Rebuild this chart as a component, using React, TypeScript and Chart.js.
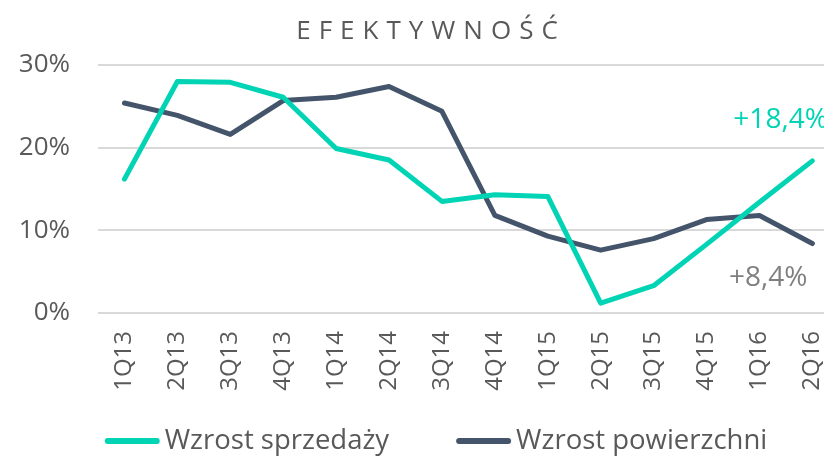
import React, { useEffect, useRef } from 'react';
import { Chart, registerables } from 'chart.js';

Chart.register(...registerables);

const categories = ['1Q13', '2Q13', '3Q13', '4Q13', '1Q14', '2Q14', '3Q14', '4Q14', '1Q15', '2Q15', '3Q15', '4Q15', '1Q16', '2Q16'];
const salesGrowth = [16.2, 28.0, 27.9, 26.1, 19.9, 18.5, 13.5, 14.3, 14.1, 1.2, 3.3, 8.3, 13.4, 18.4];
const areaGrowth = [25.4, 23.9, 21.6, 25.7, 26.1, 27.4, 24.4, 11.8, 9.3, 7.6, 9.0, 11.3, 11.8, 8.4];
const yTicks = [0, 10, 20, 30];
const seriesNames = ['Wzrost sprzedaży', 'Wzrost powierzchni'];
const titleText = 'EFEKTYWNOŚĆ';

const GREEN = '#00D4B4';
const NAVY = '#44546A';
const TEXT = '#595959';
const NOTE_GRAY = '#7F7F7F';
const FONT = "'Open Sans', sans-serif";
const LEGEND_CENTER_X = 436;
const TITLE_CENTER_X = 427;

const fmt = (v: number) => '+' + v.toFixed(1).replace('.', ',') + '%';

const spacedTitle = {
  id: 'spacedTitle',
  afterDraw(chart: any) {
    const ctx = chart.ctx;
    ctx.save();
    ctx.font = `26px ${FONT}`;
    const ls = 8;
    (ctx as any).letterSpacing = `${ls}px`;
    const w = ctx.measureText(titleText).width - ls;
    ctx.fillStyle = TEXT;
    ctx.textAlign = 'left';
    ctx.textBaseline = 'alphabetic';
    ctx.fillText(titleText, TITLE_CENTER_X - w / 2, 39);
    (ctx as any).letterSpacing = '0px';
    ctx.restore();
  },
};

const endLabels = {
  id: 'endLabels',
  afterDatasetsDraw(chart: any) {
    const ctx = chart.ctx;
    ctx.save();
    ctx.font = `28px ${FONT}`;
    ctx.textBaseline = 'middle';
    const m0 = chart.getDatasetMeta(0);
    const p0 = m0.data[m0.data.length - 1];
    ctx.fillStyle = GREEN;
    ctx.textAlign = 'left';
    ctx.fillText(fmt(salesGrowth[salesGrowth.length - 1]), p0.x - 79, p0.y - 41);
    const m1 = chart.getDatasetMeta(1);
    const p1 = m1.data[m1.data.length - 1];
    ctx.fillStyle = NOTE_GRAY;
    ctx.textAlign = 'right';
    ctx.fillText(fmt(areaGrowth[areaGrowth.length - 1]), p1.x - 5, p1.y + 34);
    ctx.restore();
  },
};

const bottomLegend = {
  id: 'bottomLegend',
  afterDraw(chart: any) {
    const ctx = chart.ctx;
    ctx.save();
    ctx.font = `27.5px ${FONT}`;
    const items = chart.data.datasets.map((ds: any) => ({
      label: ds.label,
      color: ds.borderColor,
      w: ctx.measureText(ds.label).width,
    }));
    const lineLen = 55;
    const gap = 5;
    const itemGap = 67;
    const total = items.reduce((s: number, it: any) => s + lineLen + gap + it.w, 0) + itemGap * (items.length - 1);
    let x = LEGEND_CENTER_X - total / 2;
    const y = chart.height - 15;
    items.forEach((it: any) => {
      ctx.strokeStyle = it.color;
      ctx.lineWidth = 6;
      ctx.lineCap = 'round';
      ctx.beginPath();
      ctx.moveTo(x + 3, y);
      ctx.lineTo(x + lineLen - 3, y);
      ctx.stroke();
      x += lineLen + gap;
      ctx.fillStyle = TEXT;
      ctx.textAlign = 'left';
      ctx.textBaseline = 'middle';
      ctx.fillText(it.label, x, y);
      x += it.w + itemGap;
    });
    ctx.restore();
  },
};

export default function App() {
  const ref = useRef<HTMLCanvasElement | null>(null);

  useEffect(() => {
    if (!ref.current) return;
    const chart = new Chart(ref.current, {
      type: 'line',
      data: {
        datasets: [
          {
            label: seriesNames[0],
            data: salesGrowth.map((v, i) => ({ x: i, y: v })),
            borderColor: GREEN,
            backgroundColor: GREEN,
            borderWidth: 5,
            pointRadius: 0,
            tension: 0,
            borderCapStyle: 'round',
            borderJoinStyle: 'round',
          },
          {
            label: seriesNames[1],
            data: areaGrowth.map((v, i) => ({ x: i, y: v })),
            borderColor: NAVY,
            backgroundColor: NAVY,
            borderWidth: 5,
            pointRadius: 0,
            tension: 0,
            borderCapStyle: 'round',
            borderJoinStyle: 'round',
          },
        ],
      },
      options: {
        responsive: false,
        animation: false,
        layout: { padding: { left: 0, right: 0, top: 65, bottom: 60 } },
        plugins: {
          legend: { display: false },
          tooltip: { enabled: false },
          title: { display: false },
        },
        scales: {
          x: {
            type: 'linear',
            min: -0.5,
            max: categories.length - 1 + 0.22,
            afterBuildTicks: (s: any) => {
              s.ticks = categories.map((_, i) => ({ value: i }));
            },
            afterFit: (s: any) => {
              s.height = 83;
              s.paddingLeft = 0;
              s.paddingRight = 0;
            },
            grid: { display: false, drawTicks: false },
            border: { display: false },
            ticks: {
              minRotation: 90,
              maxRotation: 90,
              padding: 18,
              autoSkip: false,
              color: TEXT,
              font: { family: FONT, size: 24 },
              callback: (v: any) => categories[v] ?? '',
            },
          },
          y: {
            min: 0,
            max: 30,
            afterBuildTicks: (s: any) => {
              s.ticks = yTicks.map((v) => ({ value: v }));
            },
            afterFit: (s: any) => {
              s.width = 98;
            },
            grid: { color: '#D9D9D9', lineWidth: 2, drawTicks: false },
            border: { display: false },
            ticks: {
              padding: 28,
              color: TEXT,
              font: { family: FONT, size: 26 },
              callback: (v: any) => v + '%',
            },
          },
        },
      },
      plugins: [spacedTitle, endLabels, bottomLegend],
    } as any);
    return () => chart.destroy();
  }, []);

  return (
    <div style={{ position: 'absolute', left: 0, top: 0, width: 824, height: 456 }}>
      <canvas ref={ref} width={824} height={456} />
    </div>
  );
}
